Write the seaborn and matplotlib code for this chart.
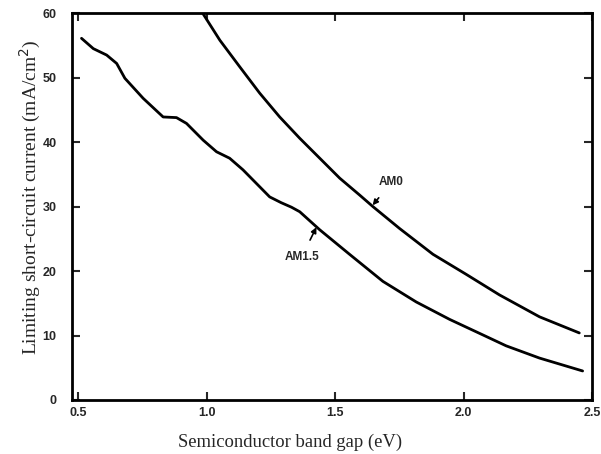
import matplotlib
matplotlib.use("Agg")
import matplotlib.pyplot as plt
import seaborn as sns
import pandas as pd

# Data
am15_eg = [0.512, 0.558, 0.610, 0.649, 0.681, 0.752, 0.830, 0.882, 0.921, 0.986, 1.038,
           1.089, 1.141, 1.193, 1.245, 1.290, 1.330, 1.362, 1.440, 1.556, 1.686, 1.816,
           1.946, 2.075, 2.166, 2.296, 2.464]
am15_j = [56.1, 54.5, 53.5, 52.2, 49.9, 46.8, 43.9, 43.8, 42.9, 40.3, 38.5,
          37.5, 35.7, 33.6, 31.5, 30.6, 29.9, 29.2, 26.4, 22.6, 18.4, 15.2,
          12.5, 10.1, 8.4, 6.5, 4.5]
am0_eg = [0.984, 1.051, 1.128, 1.206, 1.284, 1.362, 1.440, 1.518, 1.595, 1.647, 1.751,
          1.881, 2.010, 2.140, 2.296, 2.451]
am0_j = [60.0, 55.8, 51.7, 47.6, 43.9, 40.6, 37.5, 34.4, 31.8, 30.0, 26.6,
         22.6, 19.5, 16.3, 12.9, 10.4]

x_ticks = [0.5, 1.0, 1.5, 2.0, 2.5]
x_ticklabels = ["0.5", "1.0", "1.5", "2.0", "2.5"]
y_ticks = [0, 10, 20, 30, 40, 50, 60]

df = pd.concat([
    pd.DataFrame({"Eg": am15_eg, "J": am15_j, "spectrum": "AM1.5"}),
    pd.DataFrame({"Eg": am0_eg, "J": am0_j, "spectrum": "AM0"}),
])

sns.set_style("ticks")
plt.rcParams["font.family"] = ["Liberation Sans", "DejaVu Sans"]

fig = plt.figure(figsize=(6.01, 4.54), dpi=100)
ax = fig.add_axes([0.1198, 0.119, 0.865, 0.852])

sns.lineplot(data=df, x="Eg", y="J", units="spectrum", estimator=None, sort=False,
             color="black", linewidth=2.0, ax=ax, legend=False)

ax.set_xlim(0.475, 2.5)
ax.set_ylim(0, 60)
ax.set_xticks(x_ticks)
ax.set_xticklabels(x_ticklabels, fontweight="bold", fontsize=9)
ax.set_yticks(y_ticks)
ax.set_yticklabels([str(v) for v in y_ticks], fontweight="bold", fontsize=9)
ax.tick_params(direction="in", length=6, width=1.5, top=True, right=True,
               labeltop=False, labelright=False)
ax.tick_params(axis="x", pad=5)
ax.tick_params(axis="y", pad=11)
for s in ax.spines.values():
    s.set_linewidth(2.0)
    s.set_color("black")

ax.set_xlabel("Semiconductor band gap (eV)", family="Liberation Serif", fontsize=13.4)
ax.xaxis.set_label_coords(0.42, -0.086)
ax.set_ylabel("Limiting short-circuit current (mA/cm$^2$)", family="Liberation Serif",
              fontsize=14)
ax.yaxis.set_label_coords(-0.055, 0.525)

ax.annotate("AM0", xy=(1.646, 30.2), xytext=(1.72, 33.8), fontsize=8.5, fontweight="bold",
            ha="center", va="center",
            arrowprops=dict(arrowstyle="-|>", color="black", lw=1.2, mutation_scale=8,
                            shrinkA=6, shrinkB=0))
ax.annotate("AM1.5", xy=(1.427, 26.8), xytext=(1.37, 22.2), fontsize=8.5, fontweight="bold",
            ha="center", va="center",
            arrowprops=dict(arrowstyle="-|>", color="black", lw=1.2, mutation_scale=8,
                            shrinkA=6, shrinkB=0))

fig.savefig("out.png", dpi=100)
